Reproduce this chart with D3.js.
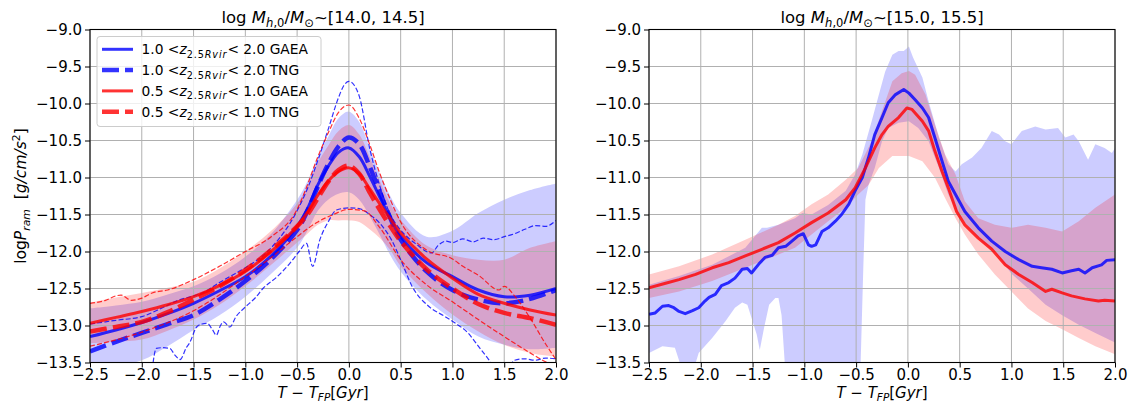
<!DOCTYPE html>
<html>
<head>
<meta charset="utf-8">
<script src="https://cdn.jsdelivr.net/npm/d3@7"></script>
<style>
  body { margin: 0; background: #fff; }
  text { font-family: "DejaVu Sans", sans-serif; white-space: pre; }
</style>
</head>
<body>
<svg id="chart" width="1129" height="405"></svg>
<script>
// ---- data ----
const xTicks = [-2.5, -2.0, -1.5, -1.0, -0.5, 0.0, 0.5, 1.0, 1.5, 2.0];
const yTicks = [-13.5, -13.0, -12.5, -12.0, -11.5, -11.0, -10.5, -10.0, -9.5, -9.0];

// left panel, log M ~ [14.0, 14.5]: smooth medians + percentile bands on a shared time grid
const tGrid = [-2.5,-2.25,-2.0,-1.75,-1.5,-1.25,-1.0,-0.75,-0.5,-0.4,-0.3,-0.2,-0.1,0,0.1,0.2,0.3,0.4,0.5,0.75,1.0,1.25,1.5,1.75,2.0];
const lBlueGaea = [-13.15,-13.06,-12.96,-12.84,-12.70,-12.53,-12.34,-12.06,-11.66,-11.42,-11.10,-10.85,-10.66,-10.60,-10.72,-10.98,-11.27,-11.55,-11.80,-12.15,-12.34,-12.52,-12.61,-12.59,-12.50];
const lBlueTng  = [-13.35,-13.22,-13.10,-12.98,-12.86,-12.65,-12.40,-12.10,-11.71,-11.45,-11.12,-10.82,-10.58,-10.46,-10.55,-10.85,-11.20,-11.55,-11.84,-12.27,-12.52,-12.65,-12.70,-12.64,-12.52];
const lRedGaea  = [-12.97,-12.89,-12.81,-12.72,-12.61,-12.46,-12.27,-12.00,-11.66,-11.47,-11.24,-11.05,-10.92,-10.87,-10.95,-11.15,-11.36,-11.56,-11.75,-12.10,-12.36,-12.58,-12.70,-12.79,-12.86];
const lRedTng   = [-13.08,-13.02,-12.95,-12.82,-12.65,-12.47,-12.25,-11.98,-11.66,-11.50,-11.28,-11.06,-10.90,-10.84,-10.95,-11.20,-11.44,-11.66,-11.86,-12.24,-12.50,-12.71,-12.83,-12.90,-12.99];
const lBlueHi = [-12.77,-12.73,-12.68,-12.58,-12.47,-12.30,-12.07,-11.76,-11.30,-11.05,-10.72,-10.45,-10.20,-10.11,-10.25,-10.60,-10.95,-11.25,-11.48,-11.80,-11.72,-11.48,-11.30,-11.17,-11.08];
const lBlueLo = [-13.60,-13.55,-13.47,-13.28,-13.06,-12.86,-12.61,-12.30,-11.95,-11.72,-11.45,-11.30,-11.22,-11.20,-11.30,-11.52,-11.78,-12.05,-12.27,-12.65,-12.92,-13.15,-13.26,-13.32,-13.30];
const lRedHi  = [-12.69,-12.62,-12.56,-12.49,-12.41,-12.23,-12.00,-11.72,-11.35,-11.12,-10.80,-10.57,-10.37,-10.29,-10.42,-10.72,-11.05,-11.35,-11.57,-11.92,-12.05,-12.11,-12.11,-11.95,-11.86];
const lRedLo  = [-13.24,-13.22,-13.19,-13.07,-12.92,-12.72,-12.47,-12.18,-11.88,-11.76,-11.64,-11.58,-11.58,-11.58,-11.60,-11.70,-11.82,-11.98,-12.20,-12.56,-12.85,-13.08,-13.26,-13.37,-13.42];

// thin dashed TNG percentile lines, [t, value]
const lBlueTngHi = [[-2.5,-12.98],[-2.25,-12.93],[-2.0,-12.88],[-1.8,-12.76],[-1.65,-12.66],[-1.5,-12.6],[-1.4,-12.55],[-1.25,-12.42],[-1.1,-12.3],[-1.0,-12.22],[-0.75,-11.95],[-0.5,-11.45],[-0.4,-11.15],[-0.3,-10.77],[-0.2,-10.35],[-0.1,-9.92],[-0.05,-9.76],[0,-9.7],[0.05,-9.75],[0.1,-9.9],[0.2,-10.6],[0.3,-11.12],[0.4,-11.5],[0.5,-11.71],[0.65,-11.9],[0.8,-12.02],[0.86,-11.92],[0.94,-11.86],[1.0,-11.88],[1.1,-11.83],[1.2,-11.87],[1.3,-11.82],[1.4,-11.84],[1.5,-11.8],[1.6,-11.76],[1.7,-11.7],[1.8,-11.65],[1.9,-11.66],[2.0,-11.58]];
const lBlueTngLo = [[-1.9,-13.6],[-1.86,-13.31],[-1.8,-13.3],[-1.73,-13.31],[-1.68,-13.4],[-1.63,-13.46],[-1.57,-13.3],[-1.54,-13.24],[-1.47,-13.02],[-1.42,-12.98],[-1.37,-12.97],[-1.32,-13.05],[-1.28,-13.13],[-1.24,-13.0],[-1.21,-12.95],[-1.15,-13.02],[-1.09,-12.88],[-1.0,-12.75],[-0.9,-12.62],[-0.83,-12.5],[-0.7,-12.35],[-0.57,-12.16],[-0.48,-12.0],[-0.41,-11.89],[-0.35,-12.2],[-0.28,-11.84],[-0.2,-11.6],[-0.12,-11.44],[0,-11.41],[0.1,-11.42],[0.2,-11.5],[0.3,-11.62],[0.41,-11.84],[0.5,-12.11],[0.61,-12.47],[0.77,-12.74],[0.93,-12.88],[1.03,-12.97],[1.15,-13.1],[1.25,-13.28],[1.35,-13.46],[1.42,-13.6],[1.5,-13.65],[1.6,-13.47],[1.7,-13.45],[1.8,-13.47],[1.9,-13.44],[2.0,-13.45]];
const lRedTngHi = [[-2.5,-12.7],[-2.35,-12.66],[-2.25,-12.6],[-2.2,-12.59],[-2.1,-12.66],[-2.0,-12.63],[-1.9,-12.56],[-1.75,-12.52],[-1.5,-12.38],[-1.25,-12.2],[-1.0,-12.0],[-0.75,-11.8],[-0.5,-11.43],[-0.4,-11.1],[-0.3,-10.72],[-0.2,-10.4],[-0.1,-10.12],[0,-10.02],[0.1,-10.2],[0.2,-10.55],[0.3,-10.95],[0.4,-11.3],[0.5,-11.6],[0.75,-11.98],[1.0,-12.1],[1.1,-12.2],[1.25,-12.32],[1.45,-12.52],[1.5,-12.47],[1.6,-12.6],[1.75,-12.9],[1.9,-13.25],[2.0,-13.46]];
const lRedTngLo = [[-2.5,-13.28],[-2.0,-13.09],[-1.5,-12.8],[-1.0,-12.34],[-0.75,-12.08],[-0.5,-11.8],[-0.3,-11.6],[-0.15,-11.5],[0,-11.43],[0.15,-11.45],[0.3,-11.68],[0.5,-12.11],[0.75,-12.45],[1.0,-12.68],[1.25,-12.92],[1.5,-13.15],[1.75,-13.37],[1.9,-13.49],[2.0,-13.55]];

// right panel, log M ~ [15.0, 15.5], [t, value]
const rBlue = [[-2.5,-12.85],[-2.44,-12.83],[-2.37,-12.74],[-2.31,-12.73],[-2.26,-12.76],[-2.21,-12.81],[-2.15,-12.84],[-2.08,-12.8],[-2.02,-12.76],[-1.96,-12.67],[-1.92,-12.62],[-1.86,-12.58],[-1.8,-12.46],[-1.73,-12.42],[-1.67,-12.36],[-1.6,-12.24],[-1.55,-12.23],[-1.51,-12.29],[-1.44,-12.17],[-1.38,-12.08],[-1.31,-12.05],[-1.25,-11.95],[-1.18,-11.93],[-1.12,-11.86],[-1.06,-11.79],[-1.01,-11.76],[-0.96,-11.91],[-0.93,-11.93],[-0.89,-11.91],[-0.83,-11.73],[-0.77,-11.68],[-0.7,-11.59],[-0.64,-11.5],[-0.57,-11.36],[-0.51,-11.18],[-0.44,-11.0],[-0.38,-10.73],[-0.32,-10.42],[-0.25,-10.19],[-0.19,-9.99],[-0.12,-9.88],[-0.04,-9.81],[0.01,-9.86],[0.07,-9.95],[0.14,-10.06],[0.2,-10.19],[0.26,-10.46],[0.33,-10.78],[0.39,-11.05],[0.46,-11.23],[0.55,-11.46],[0.68,-11.68],[0.81,-11.86],[0.94,-12.0],[1.07,-12.11],[1.2,-12.2],[1.29,-12.22],[1.39,-12.24],[1.49,-12.29],[1.58,-12.26],[1.65,-12.24],[1.71,-12.29],[1.78,-12.22],[1.87,-12.18],[1.92,-12.12],[2.0,-12.11]];
const rRed = [[-2.5,-12.49],[-2.34,-12.43],[-2.21,-12.38],[-2.05,-12.31],[-1.89,-12.22],[-1.73,-12.15],[-1.57,-12.06],[-1.41,-11.97],[-1.25,-11.88],[-1.09,-11.75],[-0.93,-11.61],[-0.77,-11.48],[-0.6,-11.3],[-0.51,-11.14],[-0.41,-10.87],[-0.32,-10.6],[-0.25,-10.42],[-0.19,-10.31],[-0.09,-10.19],[-0.01,-10.06],[0.04,-10.08],[0.14,-10.24],[0.2,-10.37],[0.26,-10.64],[0.33,-10.92],[0.39,-11.14],[0.47,-11.46],[0.55,-11.64],[0.68,-11.82],[0.81,-11.97],[0.94,-12.18],[1.07,-12.31],[1.2,-12.42],[1.33,-12.54],[1.39,-12.51],[1.49,-12.56],[1.58,-12.6],[1.71,-12.64],[1.84,-12.67],[1.9,-12.66],[2.0,-12.67]];
const rBlueHi = [[-2.5,-12.45],[-2.21,-12.33],[-1.89,-12.18],[-1.57,-11.95],[-1.41,-11.68],[-1.36,-11.68],[-1.25,-11.64],[-1.09,-11.55],[-1.02,-11.48],[-0.93,-11.5],[-0.77,-11.37],[-0.6,-11.18],[-0.51,-10.96],[-0.44,-10.69],[-0.35,-10.24],[-0.28,-9.88],[-0.22,-9.57],[-0.15,-9.34],[-0.09,-9.29],[-0.04,-9.29],[0.01,-9.23],[0.05,-9.38],[0.14,-9.65],[0.2,-9.97],[0.3,-10.46],[0.39,-10.82],[0.46,-10.92],[0.52,-10.82],[0.62,-10.73],[0.71,-10.6],[0.81,-10.37],[0.88,-10.42],[0.94,-10.51],[1.0,-10.55],[1.1,-10.37],[1.23,-10.31],[1.33,-10.35],[1.45,-10.33],[1.52,-10.46],[1.6,-10.42],[1.65,-10.51],[1.74,-10.76],[1.81,-10.55],[1.9,-10.6],[1.97,-10.67],[2.0,-10.6]];
const rBlueLo = [[-2.5,-13.37],[-2.37,-13.28],[-2.25,-13.3],[-2.18,-13.6],[-2.07,-13.6],[-2.02,-13.37],[-1.89,-13.17],[-1.76,-12.94],[-1.67,-12.76],[-1.6,-12.69],[-1.55,-12.72],[-1.51,-12.9],[-1.46,-13.12],[-1.43,-13.33],[-1.39,-13.04],[-1.34,-12.72],[-1.28,-12.63],[-1.25,-12.63],[-1.22,-12.86],[-1.18,-13.7],[-0.51,-13.7],[-0.46,-13.7],[-0.43,-12.2],[-0.41,-11.3],[-0.38,-11.1],[-0.32,-10.87],[-0.25,-10.51],[-0.19,-10.33],[-0.09,-10.26],[0.01,-10.24],[0.1,-10.33],[0.2,-10.51],[0.3,-10.87],[0.39,-11.23],[0.49,-11.5],[0.59,-11.68],[0.71,-11.86],[0.84,-12.0],[1.0,-12.3],[1.16,-12.5],[1.33,-12.72],[1.49,-12.86],[1.65,-12.99],[1.81,-13.1],[2.0,-13.23]];
const rRedHi = [[-2.5,-12.31],[-2.21,-12.2],[-1.89,-12.04],[-1.57,-11.84],[-1.25,-11.64],[-1.09,-11.52],[-0.93,-11.36],[-0.77,-11.23],[-0.6,-11.03],[-0.48,-10.87],[-0.35,-10.51],[-0.25,-10.1],[-0.15,-9.7],[-0.06,-9.59],[0.01,-9.56],[0.07,-9.61],[0.17,-9.88],[0.26,-10.28],[0.36,-10.69],[0.46,-10.96],[0.55,-11.32],[0.68,-11.55],[0.84,-11.64],[1.0,-11.68],[1.16,-11.64],[1.33,-11.68],[1.49,-11.73],[1.65,-11.59],[1.81,-11.41],[2.0,-11.23]];
const rRedLo = [[-2.5,-12.63],[-2.21,-12.54],[-1.89,-12.4],[-1.57,-12.22],[-1.25,-12.04],[-1.09,-11.95],[-0.93,-11.77],[-0.77,-11.59],[-0.6,-11.41],[-0.48,-11.23],[-0.38,-11.1],[-0.28,-10.87],[-0.15,-10.71],[0.01,-10.71],[0.14,-10.78],[0.26,-11.0],[0.36,-11.28],[0.46,-11.55],[0.55,-11.77],[0.68,-12.04],[0.84,-12.31],[1.0,-12.54],[1.16,-12.77],[1.33,-12.94],[1.49,-13.05],[1.65,-13.17],[1.81,-13.28],[2.0,-13.39]];

const legendLabels = [
  { lo: "1.0", hi: "2.0", sim: "GAEA", color: "blue", dashed: false },
  { lo: "1.0", hi: "2.0", sim: "TNG",  color: "blue", dashed: true },
  { lo: "0.5", hi: "1.0", sim: "GAEA", color: "red",  dashed: false },
  { lo: "0.5", hi: "1.0", sim: "TNG",  color: "red",  dashed: true }
];

// ---- layout ----
var dimensions = {
    width: 1129,
    height: 405,
    top: 29.5,
    bottom: 362.5,
    panelWidth: 466,
    panelLeft: [90, 649]
}
const lineColor = { blue: "rgba(0,0,255,0.8)", red: "rgba(255,0,0,0.8)" };
const fillColor = { blue: "rgba(0,0,255,0.2)", red: "rgba(255,0,0,0.2)" };
const thickDash = "17,6", thinDash = "5,2.2";
const tickFont = 15, titleFont = 16.5, labelFont = 15;

var svg = d3.select("#chart")

// text with italic / sub / superscript pieces, mathtext-ish
function richText(sel, parts, size) {
    let shift = 0;
    parts.forEach(p => {
        const target = p.sub ? size * 0.25 : p.sup ? -size * 0.42 : 0;
        const ts = sel.append("tspan").text(p.t).attr("dy", target - shift);
        if (p.i) ts.style("font-style", "italic");
        if (p.sub || p.sup) ts.style("font-size", (size * 0.7) + "px");
        if (p.ls) ts.style("letter-spacing", p.ls + "px");
        shift = target;
    });
}

function makePanel(idx, titleParts) {
    const x0 = dimensions.panelLeft[idx];
    const xScale = d3.scaleLinear().domain([-2.5, 2.0]).range([x0, x0 + dimensions.panelWidth]);
    const yScale = d3.scaleLinear().domain([-13.5, -9.0]).range([dimensions.bottom, dimensions.top]);

    const clipId = "clip" + idx;
    svg.append("clipPath").attr("id", clipId)
       .append("rect")
       .attr("x", x0).attr("y", dimensions.top)
       .attr("width", dimensions.panelWidth).attr("height", dimensions.bottom - dimensions.top);

    const layers = {
        fill: svg.append("g").attr("clip-path", `url(#${clipId})`),
        grid: svg.append("g"),
        lines: svg.append("g").attr("clip-path", `url(#${clipId})`)
    };

    // grid
    layers.grid.selectAll(".gx").data(xTicks).enter().append("line")
        .attr("x1", d => xScale(d)).attr("x2", d => xScale(d))
        .attr("y1", dimensions.top).attr("y2", dimensions.bottom)
        .attr("stroke", "#b0b0b0").attr("stroke-width", 1);
    layers.grid.selectAll(".gy").data(yTicks).enter().append("line")
        .attr("y1", d => yScale(d)).attr("y2", d => yScale(d))
        .attr("x1", x0).attr("x2", x0 + dimensions.panelWidth)
        .attr("stroke", "#b0b0b0").attr("stroke-width", 1);

    // axes
    const xAxis = svg.append("g")
        .attr("transform", `translate(0, ${dimensions.bottom})`)
        .call(d3.axisBottom(xScale).tickValues(xTicks).tickFormat(d3.format(".1f")).tickSize(5).tickPadding(2));
    const yAxis = svg.append("g")
        .attr("transform", `translate(${x0}, 0)`)
        .call(d3.axisLeft(yScale).tickValues(yTicks).tickFormat(d3.format(".1f")).tickSize(5).tickPadding(3));
    [xAxis, yAxis].forEach(a => {
        a.select(".domain").remove();
        a.attr("font-family", null).attr("font-size", null);
        a.selectAll("text").style("font-size", tickFont + "px").attr("fill", "#000");
        a.selectAll("line").attr("stroke", "#000").attr("stroke-width", 1);
    });

    // frame
    svg.append("rect")
        .attr("x", x0).attr("y", dimensions.top)
        .attr("width", dimensions.panelWidth).attr("height", dimensions.bottom - dimensions.top)
        .attr("fill", "none").attr("stroke", "#000").attr("stroke-width", 1.1);

    // title
    const title = svg.append("text")
        .attr("x", x0 + dimensions.panelWidth / 2)
        .attr("y", 22.5)
        .attr("text-anchor", "middle")
        .style("font-size", titleFont + "px");
    richText(title, titleParts, titleFont);

    // x label
    const xlab = svg.append("text")
        .attr("x", x0 + dimensions.panelWidth / 2)
        .attr("y", 397.5)
        .attr("text-anchor", "middle")
        .style("font-size", labelFont + "px");
    richText(xlab, [{t: "T", i: 1}, {t: " − "}, {t: "T", i: 1}, {t: "FP", i: 1, sub: 1}, {t: "["}, {t: "Gyr", i: 1}, {t: "]"}], labelFont);

    return { xScale, yScale, layers };
}

function pairLine(p, curve) {
    return d3.line().x(d => p.xScale(d[0])).y(d => p.yScale(d[1])).curve(curve || d3.curveLinear);
}
function pairBand(p, hi, lo) {
    const poly = hi.concat(lo.slice().reverse());
    return pairLine(p, d3.curveLinearClosed)(poly);
}
function strokeLine(g, d, color, width, dash) {
    g.append("path").attr("d", d)
        .attr("fill", "none").attr("stroke", lineColor[color])
        .attr("stroke-width", width)
        .attr("stroke-dasharray", dash || null)
        .attr("stroke-linejoin", "round");
}

const titleMath = [{t: "log "}, {t: "M", i: 1}, {t: "h", i: 1, sub: 1}, {t: ",0", sub: 1}, {t: "/"}, {t: "M", i: 1}, {t: "⊙", sub: 1}];

// ---- left panel ----
const left = makePanel(0, titleMath.concat([{t: "~[14.0, 14.5]"}]));

const gridLine = vals => d3.line()
    .x((d, i) => left.xScale(tGrid[i]))
    .y(d => left.yScale(d))
    .curve(d3.curveCatmullRom)(vals);
const gridBand = (hi, lo) => d3.area()
    .x((d, i) => left.xScale(tGrid[i]))
    .y0((d, i) => left.yScale(lo[i]))
    .y1(d => left.yScale(d))
    .curve(d3.curveCatmullRom)(hi);

left.layers.fill.append("path").attr("d", gridBand(lBlueHi, lBlueLo)).attr("fill", fillColor.blue);
left.layers.fill.append("path").attr("d", gridBand(lRedHi, lRedLo)).attr("fill", fillColor.red);

strokeLine(left.layers.lines, gridLine(lBlueGaea), "blue", 3);
strokeLine(left.layers.lines, pairLine(left, d3.curveMonotoneX)(lBlueTngHi), "blue", 1.2, thinDash);
strokeLine(left.layers.lines, pairLine(left, d3.curveMonotoneX)(lBlueTngLo), "blue", 1.2, thinDash);
strokeLine(left.layers.lines, gridLine(lBlueTng), "blue", 4.5, thickDash);
strokeLine(left.layers.lines, gridLine(lRedGaea), "red", 3);
strokeLine(left.layers.lines, pairLine(left, d3.curveMonotoneX)(lRedTngHi), "red", 1.2, thinDash);
strokeLine(left.layers.lines, pairLine(left, d3.curveMonotoneX)(lRedTngLo), "red", 1.2, thinDash);
strokeLine(left.layers.lines, gridLine(lRedTng), "red", 4.5, thickDash);

// y label (left panel only)
const ylab = svg.append("text")
    .attr("transform", `translate(26, ${(dimensions.top + dimensions.bottom) / 2}) rotate(-90)`)
    .attr("text-anchor", "middle")
    .style("font-size", "15.5px");
richText(ylab, [{t: "log"}, {t: "P", i: 1}, {t: "ram", i: 1, sub: 1}, {t: "  ["}, {t: "g/cm/s", i: 1}, {t: "2", sup: 1}, {t: "]"}], 15.5);

// legend
const legend = svg.append("g").attr("transform", "translate(97, 36.5)");
legend.append("rect")
    .attr("width", 224).attr("height", 90).attr("rx", 3)
    .attr("fill", "rgba(255,255,255,0.8)").attr("stroke", "#cccccc").attr("stroke-width", 1);
const legendRow = 20.8, legendFont = 13.8;
legendLabels.forEach((d, i) => {
    const y = 12.8 + i * legendRow;
    legend.append("line")
        .attr("x1", 5).attr("x2", 36).attr("y1", y).attr("y2", y)
        .attr("stroke", lineColor[d.color])
        .attr("stroke-width", d.dashed ? 4.5 : 3)
        .attr("stroke-dasharray", d.dashed ? thickDash : null);
    const t = legend.append("text")
        .attr("x", 44.5).attr("y", y + 5)
        .style("font-size", legendFont + "px");
    richText(t, [{t: d.lo + " <"}, {t: "z", i: 1}, {t: "2.5", sub: 1, ls: 0.9}, {t: "Rvir", i: 1, sub: 1, ls: 0.9}, {t: "<"}, {t: " " + d.hi + " " + d.sim}], legendFont);
});

// ---- right panel ----
const right = makePanel(1, titleMath.concat([{t: "~[15.0, 15.5]"}]));

right.layers.fill.append("path").attr("d", pairBand(right, rBlueHi, rBlueLo)).attr("fill", fillColor.blue);
right.layers.fill.append("path").attr("d", pairBand(right, rRedHi, rRedLo)).attr("fill", fillColor.red);
strokeLine(right.layers.lines, pairLine(right)(rBlue), "blue", 3);
strokeLine(right.layers.lines, pairLine(right)(rRed), "red", 3);
</script>
</body>
</html>
